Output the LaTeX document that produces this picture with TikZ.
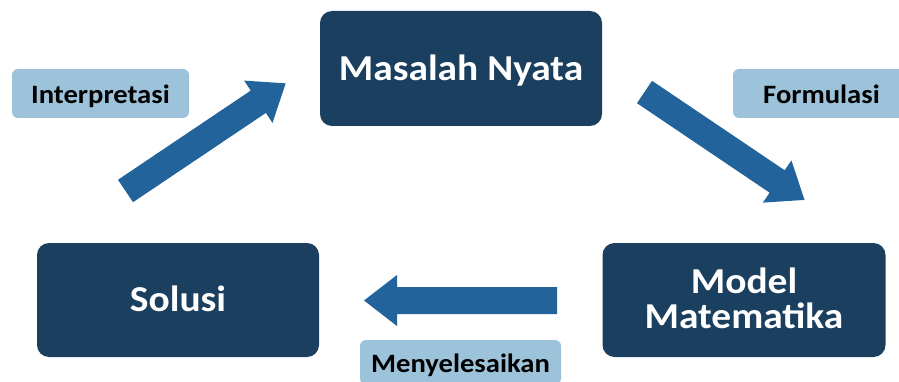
\documentclass[tikz,border=0pt]{standalone}
\usepackage{fontspec}
\setmainfont{Carlito}[FakeStretch=1.08]
\definecolor{navy}{HTML}{1B3F5F}
\definecolor{arrowblue}{HTML}{22639B}
\definecolor{labelblue}{HTML}{9DC3DA}
\begin{document}
\begin{tikzpicture}[x=1pt,y=-1pt,
  mainbox/.style={fill=navy, rounded corners=12pt, text=white, inner sep=0pt,
    font=\bfseries\fontsize{36.5}{34.5}\selectfont, align=center,
    text height=23.5pt, text depth=0pt},
  labelbox/.style={fill=labelblue, rounded corners=6pt, text=black, inner sep=0pt,
    font=\bfseries\fontsize{26.5}{28}\selectfont, text height=19.5pt, text depth=0pt},
  blockarrow/.style={fill=arrowblue}]
\useasboundingbox (0,0) rectangle (899,382);
\clip (0,0) rectangle (899,382);
% main boxes
\node[mainbox, minimum width=282pt, minimum height=115pt] (masalah) at (461,68.5) {Masalah Nyata};
\node[mainbox, minimum width=282pt, minimum height=114pt] (solusi) at (178,300) {Solusi};
\node[mainbox, minimum width=283pt, minimum height=114pt, text height=58pt, text depth=2pt] (model) at (744,300) {Model\\Matematika};
% labels
\node[labelbox, minimum width=177pt, minimum height=49pt] (interp) at (100.5,93.5) {Interpretasi};
\node[labelbox, minimum width=177pt, minimum height=49pt] (formul) at (821.5,93.5) {Formulasi};
\node[labelbox, minimum width=201pt, minimum height=44.5pt] (menyel) at (460.5,362.25) {Menyelesaikan};
% block arrows
\begin{scope}[shift={(125.5,191)}, rotate=33.9]
  \fill[blockarrow] (0,-13.5) -- (160,-13.5) -- (160,-25.5) -- (193,0) -- (160,25.5) -- (160,13.5) -- (0,13.5) -- cycle;
\end{scope}
\begin{scope}[shift={(644.5,92)}, rotate=-34]
  \fill[blockarrow] (0,-13.5) -- (160,-13.5) -- (160,-25.5) -- (193,0) -- (160,25.5) -- (160,13.5) -- (0,13.5) -- cycle;
\end{scope}
\begin{scope}[shift={(557,300.5)}, rotate=180]
  \fill[blockarrow] (0,-13.5) -- (160,-13.5) -- (160,-25.5) -- (193,0) -- (160,25.5) -- (160,13.5) -- (0,13.5) -- cycle;
\end{scope}
\end{tikzpicture}
\end{document}
